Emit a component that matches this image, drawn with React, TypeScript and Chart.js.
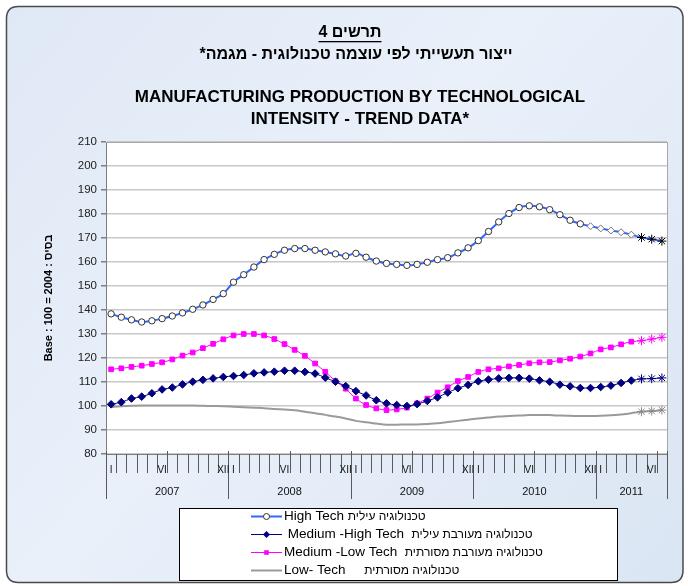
import React, { useEffect, useRef } from 'react';
import { Chart, registerables } from 'chart.js';
Chart.register(...registerables);

const years = ['2007', '2008', '2009', '2010', '2011'];
const monthsPerYear = [12, 12, 12, 12, 7];
const monthTickLabels = ['I', '', '', '', '', 'VI', '', '', '', '', '', 'XII'];
const categories: string[] = [];
years.forEach((y, yi) => {
  for (let m = 0; m < monthsPerYear[yi]; m++) categories.push(`${m + 1}/${y}`);
});

const highTech = [
  138.4, 137.0, 135.9, 135.0, 135.5, 136.4, 137.5, 138.8, 140.3, 142.1, 144.4, 146.8,
  151.6, 154.7, 157.9, 161.0, 163.2, 164.9, 165.6, 165.6, 164.9, 164.2, 163.4, 162.5,
  163.6, 162.0, 160.4, 159.4, 159.0, 158.6, 159.0, 159.9, 161.0, 161.8, 163.8, 165.9,
  168.9, 172.7, 176.7, 180.2, 182.7, 183.4, 183.0, 181.8, 179.7, 177.4, 175.9, 174.9,
  174.0, 173.1, 172.4, 171.4, 170.2, 169.5, 168.7,
];
const mediumHighTech = [
  100.7, 101.6, 103.1, 103.9, 105.3, 106.9, 107.7, 109.0, 110.1, 110.9, 111.5, 112.1,
  112.5, 112.9, 113.6, 114.0, 114.3, 114.7, 114.7, 114.2, 113.5, 111.8, 110.1, 108.3,
  106.2, 104.4, 102.4, 101.1, 100.4, 100.0, 100.8, 102.1, 103.6, 105.6, 107.4, 108.8,
  110.3, 111.0, 111.5, 111.7, 111.7, 111.4, 110.7, 110.1, 108.9, 108.2, 107.5, 107.5,
  107.9, 108.5, 109.6, 110.6, 111.3, 111.4, 111.7,
];
const mediumLowTech = [
  115.3, 115.7, 116.3, 116.8, 117.5, 118.2, 119.4, 121.0, 122.3, 124.1, 125.9, 127.8,
  129.4, 130.0, 130.0, 129.4, 127.9, 125.8, 123.4, 120.9, 117.7, 114.2, 110.4, 107.2,
  103.1, 100.4, 99.0, 98.3, 98.6, 99.3, 101.1, 103.1, 105.6, 107.8, 110.4, 112.1,
  114.2, 115.3, 115.7, 116.5, 117.1, 117.8, 118.2, 118.3, 119.0, 119.7, 120.6, 121.9,
  123.6, 124.4, 125.7, 126.8, 127.2, 127.9, 128.6,
];
const lowTech = [
  99.6, 99.9, 100.1, 100.2, 100.2, 100.2, 100.2, 100.2, 100.2, 100.1, 100.0, 99.9,
  99.7, 99.5, 99.3, 99.1, 98.8, 98.5, 98.2, 97.6, 97.0, 96.3, 95.6, 94.8,
  93.8, 93.2, 92.7, 92.2, 92.2, 92.3, 92.3, 92.5, 92.8, 93.3, 93.8, 94.3,
  94.8, 95.2, 95.6, 95.8, 96.0, 96.2, 96.2, 96.2, 96.0, 95.9, 95.8, 95.8,
  95.9, 96.1, 96.5, 97.0, 97.6, 97.9, 98.3,
];

const yTickMin = 80;
const yTickMax = 210;
const yTickStep = 10;

const titleLine1 = 'תרשים 4';
const titleLine2 = 'ייצור תעשייתי לפי עוצמה טכנולוגית - מגמה*';
const titleLine3 = 'MANUFACTURING PRODUCTION BY TECHNOLOGICAL';
const titleLine4 = 'INTENSITY - TREND DATA*';
const yAxisTitle = 'Base : 100 = 2004 : בסיס';
const legendEnglish = ['High Tech ', ' Medium -High Tech  ', 'Medium -Low Tech  ', 'Low- Tech     '];
const legendHebrew = ['טכנולוגיה עילית', 'טכנולוגיה מעורבת עילית', 'טכנולוגיה מעורבת מסורתית', 'טכנולוגיה מסורתית'];

const FONT = 'Arial, "Liberation Sans", sans-serif';
const N = categories.length;
const recentStart = N - 3;

const HT_COLOR = '#3366ff';
const MHT_COLOR = '#000080';
const MLT_COLOR = '#ff00ff';
const LT_COLOR = '#9a9a9a';

const htStyles = categories.map((_, i) => (i >= recentStart ? 'star' : i >= 47 ? 'rectRot' : 'circle'));
const htBorders = categories.map((_, i) => (i >= recentStart ? '#000000' : i >= 47 ? '#777777' : '#333333'));
const htRadius = categories.map((_, i) => (i >= recentStart ? 4.5 : i >= 47 ? 3.5 : 3.2));
const mhtStyles = categories.map((_, i) => (i >= recentStart ? 'star' : 'rectRot'));
const mhtRadius = categories.map((_, i) => (i >= recentStart ? 4.5 : 3.8));
const mltStyles = categories.map((_, i) => (i >= recentStart ? 'star' : 'rect'));
const mltRadius = categories.map((_, i) => (i >= recentStart ? 4.5 : 3.3));
const ltRadius = categories.map((_, i) => (i >= recentStart ? 4.5 : 0));

function drawMarker(ctx: CanvasRenderingContext2D, kind: string, x: number, y: number, color: string) {
  ctx.save();
  if (kind === 'circle') {
    ctx.beginPath();
    ctx.arc(x, y, 3, 0, Math.PI * 2);
    ctx.fillStyle = '#ffffff';
    ctx.fill();
    ctx.strokeStyle = '#333333';
    ctx.lineWidth = 1;
    ctx.stroke();
  } else if (kind === 'diamond') {
    ctx.beginPath();
    ctx.moveTo(x, y - 3.5);
    ctx.lineTo(x + 3.5, y);
    ctx.lineTo(x, y + 3.5);
    ctx.lineTo(x - 3.5, y);
    ctx.closePath();
    ctx.fillStyle = color;
    ctx.fill();
  } else if (kind === 'square') {
    ctx.fillStyle = color;
    ctx.fillRect(x - 2.3, y - 2.3, 4.6, 4.6);
  }
  ctx.restore();
}

const decorPlugin = {
  id: 'decor',
  beforeDraw(chart: any) {
    const { ctx, width, height, chartArea } = chart;
    ctx.save();
    ctx.fillStyle = '#ffffff';
    ctx.fillRect(0, 0, width, height);
    const x0 = 6.5, y0 = 6.5, x1 = 683, y1 = 582.5, r = 12;
    ctx.beginPath();
    ctx.moveTo(x0 + r, y0);
    ctx.lineTo(x1 - r, y0);
    ctx.quadraticCurveTo(x1, y0, x1, y0 + r);
    ctx.lineTo(x1, y1 - r);
    ctx.quadraticCurveTo(x1, y1, x1 - r, y1);
    ctx.lineTo(x0 + r, y1);
    ctx.quadraticCurveTo(x0, y1, x0, y1 - r);
    ctx.lineTo(x0, y0 + r);
    ctx.quadraticCurveTo(x0, y0, x0 + r, y0);
    ctx.closePath();
    const g = ctx.createLinearGradient(0, 0, width, height);
    g.addColorStop(0, '#dfe8f5');
    g.addColorStop(0.45, '#e9f0fa');
    g.addColorStop(1, '#dae5f3');
    ctx.fillStyle = g;
    ctx.fill();
    ctx.strokeStyle = '#4a4a4a';
    ctx.lineWidth = 1.5;
    ctx.stroke();

    ctx.fillStyle = '#ffffff';
    ctx.fillRect(chartArea.left, chartArea.top, chartArea.right - chartArea.left, chartArea.bottom - chartArea.top);

    ctx.fillStyle = '#000000';
    ctx.textAlign = 'center';
    ctx.textBaseline = 'middle';
    ctx.font = `bold 16px ${FONT}`;
    ctx.direction = 'ltr';
    ctx.fillText(titleLine1, 350, 33);
    const w1 = ctx.measureText(titleLine1).width;
    ctx.fillRect(350 - w1 / 2, 41, w1, 1.3);
    ctx.direction = 'rtl';
    ctx.fillText(titleLine2, 356, 55);
    ctx.direction = 'ltr';
    ctx.font = `bold 17px ${FONT}`;
    ctx.fillText(titleLine3, 360, 97);
    ctx.fillText(titleLine4, 360, 119);
    ctx.restore();
  },
  afterDraw(chart: any) {
    const { ctx, chartArea, scales } = chart;
    const xs = scales.x;
    const top = chartArea.top, bottom = chartArea.bottom, left = chartArea.left, right = chartArea.right;
    ctx.save();
    ctx.strokeStyle = '#a6a6a6';
    ctx.lineWidth = 1;
    ctx.beginPath();
    ctx.moveTo(left, top + 0.5);
    ctx.lineTo(right + 0.5, top + 0.5);
    ctx.lineTo(right + 0.5, bottom);
    ctx.stroke();
    ctx.strokeStyle = '#7f7f7f';
    ctx.beginPath();
    ctx.moveTo(left, bottom + 0.5);
    ctx.lineTo(right + 1, bottom + 0.5);
    ctx.stroke();

    const step = xs.getPixelForValue(1) - xs.getPixelForValue(0);
    ctx.strokeStyle = '#5a5a5a';
    const boundaries: number[] = [];
    for (let b = 0; b <= N; b++) {
      const px = b < N ? xs.getPixelForValue(b) - step / 2 : xs.getPixelForValue(N - 1) + step / 2;
      boundaries.push(px);
    }
    const yearStarts: number[] = [];
    let idx = 0;
    years.forEach((_, yi) => { yearStarts.push(idx); idx += monthsPerYear[yi]; });
    yearStarts.push(N);
    for (let b = 0; b <= N; b++) {
      const px = Math.round(boundaries[b]) + 0.5;
      const isYear = yearStarts.includes(b);
      let startInYear = 0;
      for (let k = 0; k < yearStarts.length; k++) if (yearStarts[k] <= b) startInYear = yearStarts[k];
      const isHalf = (b - startInYear) % 6 === 0;
      ctx.beginPath();
      if (isYear) {
        ctx.moveTo(px, bottom - 3);
        ctx.lineTo(px, bottom + 45);
      } else if (isHalf) {
        ctx.moveTo(px, bottom - 3);
        ctx.lineTo(px, bottom + 19);
      } else {
        ctx.moveTo(px, bottom);
        ctx.lineTo(px, bottom + 19);
      }
      ctx.stroke();
    }
    ctx.fillStyle = '#111111';
    ctx.textAlign = 'center';
    ctx.textBaseline = 'middle';
    years.forEach((yr, yi) => {
      ctx.font = `10px ${FONT}`;
      for (let m = 0; m < monthsPerYear[yi]; m++) {
        const lab = monthTickLabels[m];
        if (!lab) continue;
        const px = xs.getPixelForValue(yearStarts[yi] + m);
        ctx.fillText(lab, px, bottom + 16);
      }
      const a = boundaries[yearStarts[yi]];
      const z = boundaries[yearStarts[yi + 1]];
      ctx.font = `11px ${FONT}`;
      ctx.fillText(yr, (a + z) / 2, bottom + 38);
    });

    ctx.save();
    ctx.translate(49, (top + bottom) / 2);
    ctx.rotate(-Math.PI / 2);
    ctx.font = `bold 11px ${FONT}`;
    ctx.fillStyle = '#000000';
    ctx.textAlign = 'center';
    ctx.textBaseline = 'middle';
    ctx.fillText(yAxisTitle, 0, 0);
    ctx.restore();

    const lx0 = 179.5, ly0 = 508.5, lx1 = 617.5, ly1 = 580.5;
    ctx.fillStyle = '#ffffff';
    ctx.fillRect(lx0, ly0, lx1 - lx0, ly1 - ly0);
    ctx.strokeStyle = '#000000';
    ctx.lineWidth = 1;
    ctx.strokeRect(lx0, ly0, lx1 - lx0, ly1 - ly0);
    const rows = [516.5, 534.5, 552.5, 570.5];
    const lineColors = [HT_COLOR, MHT_COLOR, MLT_COLOR, LT_COLOR];
    const markers = ['circle', 'diamond', 'square', ''];
    const widths = [2, 1, 1, 2];
    rows.forEach((ry, i) => {
      ctx.strokeStyle = lineColors[i];
      ctx.lineWidth = widths[i];
      ctx.beginPath();
      ctx.moveTo(251, ry);
      ctx.lineTo(282, ry);
      ctx.stroke();
      if (markers[i]) drawMarker(ctx, markers[i], 266.5, ry, lineColors[i]);
      ctx.fillStyle = '#000000';
      ctx.textAlign = 'left';
      ctx.textBaseline = 'middle';
      ctx.direction = 'ltr';
      ctx.font = `13.5px ${FONT}`;
      ctx.fillText(legendEnglish[i], 284, ry);
      const ew = ctx.measureText(legendEnglish[i]).width;
      ctx.font = `12px ${FONT}`;
      ctx.fillText(legendHebrew[i], 284 + ew, ry);
    });
    ctx.restore();
  },
};

export default function App() {
  const ref = useRef<HTMLCanvasElement | null>(null);
  useEffect(() => {
    if (!ref.current) return;
    const chart = new Chart(ref.current, {
      type: 'line',
      data: {
        labels: categories,
        datasets: [
          {
            label: legendEnglish[0] + legendHebrew[0],
            data: highTech,
            borderColor: HT_COLOR,
            borderWidth: 2,
            tension: 0.3,
            pointStyle: htStyles as any,
            pointRadius: htRadius,
            pointBackgroundColor: '#ffffff',
            pointBorderColor: htBorders,
            pointBorderWidth: 1,
          },
          {
            label: legendEnglish[1] + legendHebrew[1],
            data: mediumHighTech,
            borderColor: MHT_COLOR,
            borderWidth: 1,
            tension: 0.3,
            pointStyle: mhtStyles as any,
            pointRadius: mhtRadius,
            pointBackgroundColor: MHT_COLOR,
            pointBorderColor: MHT_COLOR,
            pointBorderWidth: 1,
          },
          {
            label: legendEnglish[2] + legendHebrew[2],
            data: mediumLowTech,
            borderColor: MLT_COLOR,
            borderWidth: 1,
            tension: 0.3,
            pointStyle: mltStyles as any,
            pointRadius: mltRadius,
            pointBackgroundColor: MLT_COLOR,
            pointBorderColor: MLT_COLOR,
            pointBorderWidth: 1,
          },
          {
            label: legendEnglish[3] + legendHebrew[3],
            data: lowTech,
            borderColor: LT_COLOR,
            borderWidth: 2,
            tension: 0.3,
            pointStyle: 'star',
            pointRadius: ltRadius,
            pointBackgroundColor: LT_COLOR,
            pointBorderColor: '#8a8a8a',
            pointBorderWidth: 1,
          },
        ],
      },
      options: {
        animation: false,
        responsive: false,
        maintainAspectRatio: false,
        devicePixelRatio: 1,
        layout: { padding: { left: 0, top: 142, right: 21, bottom: 132 } },
        plugins: {
          legend: { display: false },
          title: { display: false },
          tooltip: { enabled: false },
        },
        scales: {
          x: {
            display: false,
            offset: true,
          },
          y: {
            min: yTickMin,
            max: yTickMax,
            ticks: {
              stepSize: yTickStep,
              color: '#222222',
              font: { family: FONT, size: 11.5 },
              padding: 4,
            },
            grid: {
              color: '#c8c8c8',
              lineWidth: 1.5,
              tickColor: '#7f7f7f',
              tickLength: 5,
            },
            border: { color: '#7f7f7f', width: 1 },
            afterFit: (s: any) => {
              s.width = 106;
            },
          },
        },
      },
      plugins: [decorPlugin],
    });
    return () => chart.destroy();
  }, []);
  return (
    <div style={{ position: 'absolute', left: 0, top: 0, width: 688, height: 586 }}>
      <canvas ref={ref} width={688} height={586} style={{ width: 688, height: 586, display: 'block' }} />
    </div>
  );
}
